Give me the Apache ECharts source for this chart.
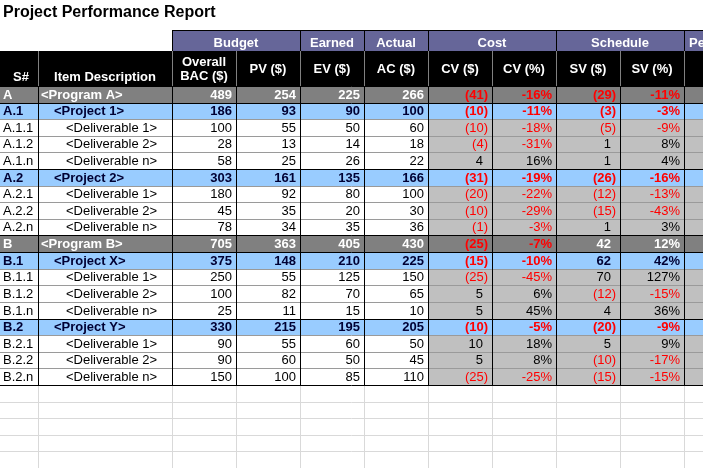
<!DOCTYPE html>
<html><head><meta charset="utf-8">
<script src="https://cdn.jsdelivr.net/npm/echarts@6/dist/echarts.min.js"></script>
<style>html,body{margin:0;padding:0;background:#fff}#c{width:703px;height:468px}</style>
</head><body><div id="c"></div>
<script>
// ---------- data ----------
const titleText = 'Project Performance Report';
const groupHeaders = ['Budget', 'Earned', 'Actual', 'Cost', 'Schedule', 'Performance'];
const columnHeaders = ['S#', 'Item Description', 'Overall\nBAC ($)', 'PV ($)', 'EV ($)', 'AC ($)', 'CV ($)', 'CV (%)', 'SV ($)', 'SV (%)', ''];
const codes = ['A', 'A.1', 'A.1.1', 'A.1.2', 'A.1.n', 'A.2', 'A.2.1', 'A.2.2', 'A.2.n',
               'B', 'B.1', 'B.1.1', 'B.1.2', 'B.1.n', 'B.2', 'B.2.1', 'B.2.2', 'B.2.n'];
const descriptions = ['<Program A>', '<Project 1>', '<Deliverable 1>', '<Deliverable 2>', '<Deliverable n>',
                      '<Project 2>', '<Deliverable 1>', '<Deliverable 2>', '<Deliverable n>',
                      '<Program B>', '<Project X>', '<Deliverable 1>', '<Deliverable 2>', '<Deliverable n>',
                      '<Project Y>', '<Deliverable 1>', '<Deliverable 2>', '<Deliverable n>'];
const levels = [0, 1, 2, 2, 2, 1, 2, 2, 2, 0, 1, 2, 2, 2, 1, 2, 2, 2];
const bac   = [489, 186, 100, 28, 58, 303, 180, 45, 78, 705, 375, 250, 100, 25, 330, 90, 90, 150];
const pv    = [254, 93, 55, 13, 25, 161, 92, 35, 34, 363, 148, 55, 82, 11, 215, 55, 60, 100];
const ev    = [225, 90, 50, 14, 26, 135, 80, 20, 35, 405, 210, 125, 70, 15, 195, 60, 50, 85];
const ac    = [266, 100, 60, 18, 22, 166, 100, 30, 36, 430, 225, 150, 65, 10, 205, 50, 45, 110];
const cv    = [-41, -10, -10, -4, 4, -31, -20, -10, -1, -25, -15, -25, 5, 5, -10, 10, 5, -25];
const cvPct = [-16, -11, -18, -31, 16, -19, -22, -29, -3, -7, -10, -45, 6, 45, -5, 18, 8, -25];
const sv    = [-29, -3, -5, 1, 1, -26, -12, -15, 1, 42, 62, 70, -12, 4, -20, 5, -10, -15];
const svPct = [-11, -3, -9, 8, 4, -16, -13, -43, 3, 12, 42, 127, -15, 36, -9, 9, -17, -15];
const blankRows = ['blank1', 'blank2', 'blank3', 'blank4', 'blank5'];

// ---------- layout & style ----------
const colEdges = [0, 38, 172, 236, 300, 364, 428, 492, 556, 620, 684, 703];
const groupSpans = [[2, 4], [4, 5], [5, 6], [6, 8], [8, 10], [10, 11]];
const headerRowEdges = [0, 21, 56];
const FONT = '"Liberation Sans", Arial, sans-serif';
const C = {
  purple: '#666699', black: '#000000', program: '#808080', project: '#99ccff',
  varGray: '#c0c0c0', red: '#ff0000', navy: '#000033', inner: '#9a9a9a', grid: '#d9d9d9',
  hdrSep: '#808080'
};
const indents = [3, 16, 28];

function fmtParen(v) { return v < 0 ? '(' + (-v) + ')' : String(v); }

function renderBodyRow(params, api) {
  const i = params.dataIndex;
  const lvl = levels[i];
  const yc = api.coord([0, api.value(1)])[1];
  const h = api.size([0, 1])[1];
  const top = Math.round(yc - h / 2);
  const bot = Math.round(yc + h / 2);
  const xs = colEdges.map(e => Math.round(api.coord([e, api.value(1)])[0]));
  const children = [];
  for (let c = 0; c < xs.length - 1; c++) {
    let fill = lvl === 0 ? C.program : lvl === 1 ? C.project : (c >= 6 ? C.varGray : '#ffffff');
    children.push({ type: 'rect', z2: 1, shape: { x: xs[c], y: top, width: xs[c + 1] - xs[c], height: bot - top }, style: { fill } });
  }
  const base = lvl === 0 ? '#ffffff' : lvl === 1 ? C.navy : '#000000';
  const font = (lvl < 2 ? 'bold ' : '') + '13px ' + FONT;
  const ty = (top + bot) / 2 + 0.5;
  const cells = [
    { c: 0, text: codes[i], left: 3 },
    { c: 1, text: descriptions[i], left: indents[lvl] },
    { c: 2, text: String(bac[i]), pad: 4 },
    { c: 3, text: String(pv[i]), pad: 4 },
    { c: 4, text: String(ev[i]), pad: 4 },
    { c: 5, text: String(ac[i]), pad: 4 },
    { c: 6, text: fmtParen(cv[i]), pad: cv[i] < 0 ? 4 : 9, neg: cv[i] < 0 },
    { c: 7, text: cvPct[i] + '%', pad: 4, neg: cvPct[i] < 0 },
    { c: 8, text: fmtParen(sv[i]), pad: sv[i] < 0 ? 4 : 9, neg: sv[i] < 0 },
    { c: 9, text: svPct[i] + '%', pad: 4, neg: svPct[i] < 0 }
  ];
  cells.forEach(cell => {
    const isLeft = cell.left !== undefined;
    children.push({
      type: 'text', z2: 5,
      style: {
        text: cell.text,
        x: isLeft ? xs[cell.c] + cell.left : xs[cell.c + 1] - cell.pad,
        y: ty, align: isLeft ? 'left' : 'right', verticalAlign: 'middle',
        font, fill: cell.neg ? C.red : base
      }
    });
  });
  // top border
  const strongTop = lvl <= 1 || (i > 0 && levels[i - 1] === 0);
  children.push({ type: 'line', z2: strongTop ? 20 : 10, shape: { x1: 0, y1: top + 0.5, x2: xs[xs.length - 1], y2: top + 0.5 },
    style: { stroke: strongTop ? C.black : C.inner, lineWidth: 1 } });
  if (i === codes.length - 1) {
    children.push({ type: 'line', z2: 20, shape: { x1: 0, y1: bot + 0.5, x2: xs[xs.length - 1], y2: bot + 0.5 },
      style: { stroke: C.black, lineWidth: 1 } });
  }
  for (let c = 1; c < xs.length - 1; c++) {
    children.push({ type: 'line', z2: 20, shape: { x1: xs[c] + 0.5, y1: top, x2: xs[c] + 0.5, y2: bot + 1 },
      style: { stroke: C.black, lineWidth: 1 } });
  }
  return { type: 'group', children };
}

function renderBlankRow(params, api) {
  const yc = api.coord([0, api.value(1)])[1];
  const h = api.size([0, 1])[1];
  const top = Math.round(yc - h / 2);
  const bot = Math.round(yc + h / 2);
  const xs = colEdges.map(e => Math.round(api.coord([e, api.value(1)])[0]));
  const children = [];
  children.push({ type: 'line', shape: { x1: 0, y1: bot + 0.5, x2: xs[xs.length - 1], y2: bot + 0.5 }, style: { stroke: C.grid, lineWidth: 1 } });
  for (let c = 1; c < xs.length - 1; c++) {
    children.push({ type: 'line', shape: { x1: xs[c] + 0.5, y1: top, x2: xs[c] + 0.5, y2: bot + 1 }, style: { stroke: C.grid, lineWidth: 1 } });
  }
  return { type: 'group', children };
}

function renderGroupHeader(params, api) {
  const g = params.dataIndex;
  const span = groupSpans[g];
  const x0 = Math.round(api.coord([colEdges[span[0]], headerRowEdges[0]])[0]);
  const x1 = Math.round(api.coord([colEdges[span[1]], headerRowEdges[0]])[0]);
  const y0 = Math.round(api.coord([0, headerRowEdges[0]])[1]);
  const y1 = Math.round(api.coord([0, headerRowEdges[1]])[1]);
  const isLast = g === groupHeaders.length - 1;
  return { type: 'group', children: [
    { type: 'rect', z2: 1, shape: { x: x0, y: y0, width: x1 - x0 + (isLast ? 20 : 0), height: y1 - y0 }, style: { fill: C.purple } },
    { type: 'line', z2: 10, shape: { x1: x0, y1: y0 + 0.5, x2: x1 + (isLast ? 20 : 0), y2: y0 + 0.5 }, style: { stroke: C.black, lineWidth: 1 } },
    { type: 'line', z2: 10, shape: { x1: x0 + 0.5, y1: y0, x2: x0 + 0.5, y2: y1 }, style: { stroke: C.black, lineWidth: 1 } },
    { type: 'text', z2: 5, style: {
        text: groupHeaders[g], x: isLast ? x0 + 5 : (x0 + x1) / 2, y: (y0 + y1) / 2 + 2.5,
        align: isLast ? 'left' : 'center', verticalAlign: 'middle',
        font: 'bold 13px ' + FONT, fill: '#ffffff' } }
  ] };
}

function renderColumnHeader(params, api) {
  const c = params.dataIndex;
  const x0 = Math.round(api.coord([colEdges[c], headerRowEdges[1]])[0]);
  const x1 = Math.round(api.coord([colEdges[c + 1], headerRowEdges[1]])[0]);
  const y0 = Math.round(api.coord([0, headerRowEdges[1]])[1]);
  const y1 = Math.round(api.coord([0, headerRowEdges[2]])[1]);
  const bottomAligned = c < 2;
  const children = [
    { type: 'rect', z2: 1, shape: { x: x0, y: y0, width: x1 - x0, height: y1 - y0 }, style: { fill: C.black } },
    { type: 'text', z2: 5, style: {
        text: columnHeaders[c], x: (x0 + x1) / 2 + (c === 0 ? 2 : 0), y: bottomAligned ? y1 - 8.5 : (y0 + y1) / 2 + 1,
        align: 'center', verticalAlign: 'middle', lineHeight: 14,
        font: 'bold 13px ' + FONT, fill: '#ffffff' } }
  ];
  if (c > 0) children.push({ type: 'line', z2: 10, shape: { x1: x0 + 0.5, y1: y0, x2: x0 + 0.5, y2: y1 }, style: { stroke: C.hdrSep, lineWidth: 1 } });
  return { type: 'group', children };
}

const chart = echarts.init(document.getElementById('c'), null, { renderer: 'canvas' });
chart.setOption({
  animation: false,
  backgroundColor: '#ffffff',
  title: { text: titleText, left: 3, top: 5, padding: 0,
    textStyle: { fontFamily: FONT, fontSize: 16, fontWeight: 'bold', color: '#000000' } },
  grid: [
    { left: 0, top: 86, width: 703, height: 391 },
    { left: 0, top: 30, width: 703, height: 56 }
  ],
  xAxis: [
    { type: 'value', gridIndex: 0, min: 0, max: 703, show: false },
    { type: 'value', gridIndex: 1, min: 0, max: 703, show: false }
  ],
  yAxis: [
    { type: 'category', gridIndex: 0, data: codes.concat(blankRows), inverse: true, show: false },
    { type: 'value', gridIndex: 1, min: headerRowEdges[0], max: headerRowEdges[2], inverse: true, show: false }
  ],
  series: [
    { type: 'custom', xAxisIndex: 0, yAxisIndex: 0, z: 2, clip: false, renderItem: renderBlankRow,
      data: blankRows.map(b => [0, b]) },
    { type: 'custom', xAxisIndex: 0, yAxisIndex: 0, z: 3, clip: false, renderItem: renderBodyRow,
      data: codes.map(c => [0, c]) },
    { type: 'custom', xAxisIndex: 1, yAxisIndex: 1, z: 3, clip: false, renderItem: renderGroupHeader,
      data: groupHeaders.map((g, i) => [i, headerRowEdges[0]]) },
    { type: 'custom', xAxisIndex: 1, yAxisIndex: 1, z: 3, clip: false, renderItem: renderColumnHeader,
      data: columnHeaders.map((h, i) => [i, headerRowEdges[1]]) }
  ]
});
</script></body></html>
